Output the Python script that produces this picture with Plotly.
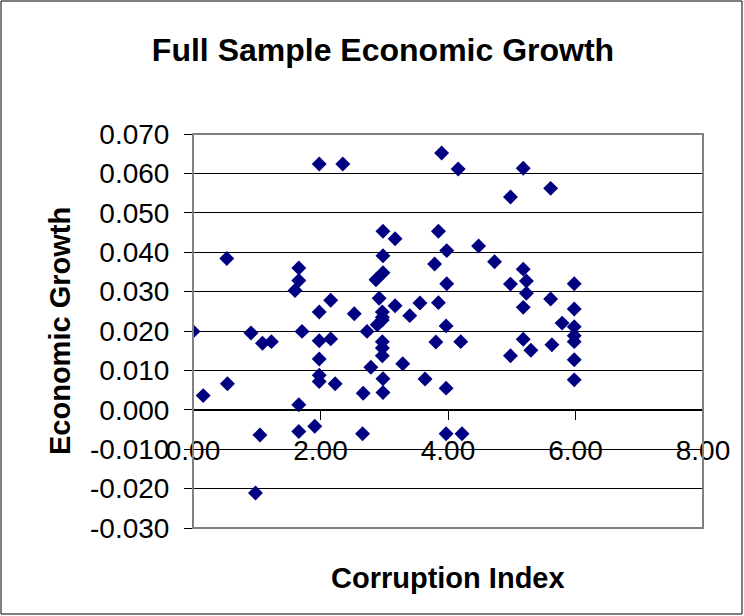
import plotly.graph_objects as go

# Data
corruption_index = [
    0.00, 0.16, 0.54, 0.53, 0.91, 1.09, 1.23, 1.05, 0.98, 1.66,
    1.66, 1.91, 1.60, 1.66, 1.66, 1.71, 1.98, 2.35, 2.16, 1.98,
    1.98, 2.16, 1.98, 1.98, 1.98, 2.23, 2.53, 2.66, 2.67, 2.73,
    2.79, 2.87, 2.89, 2.92, 2.97, 2.97, 2.98, 2.98, 2.98, 2.97,
    2.97, 2.97, 2.98, 2.98, 3.17, 3.17, 3.29, 3.40, 3.56, 3.64,
    3.79, 3.81, 3.85, 3.85, 3.90, 3.97, 3.98, 3.98, 3.97, 3.97,
    4.16, 4.20, 4.22, 4.48, 4.73, 4.98, 4.98, 4.98, 5.18, 5.18,
    5.23, 5.23, 5.18, 5.18, 5.30, 5.61, 5.61, 5.63, 5.79, 5.98,
    5.98, 5.98, 5.98, 5.98, 5.98, 5.98, 2.97,
]
economic_growth = [
    0.0199, 0.0036, 0.0066, 0.0384, 0.0195, 0.0169, 0.0173, -0.0064, -0.0211, 0.0013,
    -0.0055, -0.0042, 0.0303, 0.0328, 0.0360, 0.0199, 0.0624, 0.0624, 0.0278, 0.0248,
    0.0175, 0.0180, 0.0129, 0.0088, 0.0072, 0.0066, 0.0244, -0.0061, 0.0042, 0.0199,
    0.0108, 0.0330, 0.0216, 0.0283, 0.0248, 0.0228, 0.0453, 0.0391, 0.0348, 0.0173,
    0.0157, 0.0137, 0.0079, 0.0044, 0.0434, 0.0264, 0.0117, 0.0239, 0.0271, 0.0078,
    0.0370, 0.0172, 0.0453, 0.0272, 0.0652, 0.0213, 0.0404, 0.0320, 0.0055, -0.0061,
    0.0611, 0.0173, -0.0061, 0.0416, 0.0376, 0.0540, 0.0319, 0.0137, 0.0613, 0.0357,
    0.0327, 0.0296, 0.0260, 0.0179, 0.0151, 0.0562, 0.0281, 0.0165, 0.0220, 0.0320,
    0.0256, 0.0211, 0.0188, 0.0173, 0.0127, 0.0076, 0.0235,
]

x_tickvals = [0, 2, 4, 6, 8]
x_ticktext = ["0.00", "2.00", "4.00", "6.00", "8.00"]
y_tickvals = [-0.03, -0.02, -0.01, 0.0, 0.01, 0.02, 0.03, 0.04, 0.05, 0.06, 0.07]
y_ticktext = ["-0.030", "-0.020", "-0.010", "0.000", "0.010", "0.020",
              "0.030", "0.040", "0.050", "0.060", "0.070"]

title_text = "Full Sample Economic Growth"
x_title = "Corruption Index"
y_title = "Economic Growth"

W, H = 744, 616
L, R, T, B = 193, 703, 134, 528
pw, ph = R - L, B - T

FONT = "Arial, Liberation Sans, sans-serif"


def px2paper_x(px):
    return (px - L) / pw


def px2paper_y(py):
    return (B - py) / ph


fig = go.Figure()
fig.add_trace(go.Scatter(
    x=corruption_index, y=economic_growth, mode="markers",
    marker=dict(symbol="diamond", size=11.5, color="#000080",
                line=dict(width=0)),
    showlegend=False,
))

fig.update_layout(
    width=W, height=H,
    margin=dict(l=L, r=W - R, t=T, b=H - B, pad=0, autoexpand=False),
    paper_bgcolor="white", plot_bgcolor="white",
    font=dict(family=FONT, color="black", size=28),
    title=dict(text="<b>" + title_text + "</b>",
               font=dict(family=FONT, size=32, color="black"),
               x=383 / W, xanchor="center", xref="container",
               y=1 - 50 / H, yanchor="middle", yref="container"),
    xaxis=dict(
        range=[0, 8], tickvals=x_tickvals, ticktext=x_ticktext,
        showgrid=False, zeroline=False, automargin=False,
        showline=True, linecolor="black", linewidth=1,
        ticks="outside", ticklen=9, tickcolor="black", tickwidth=1,
        anchor="free", position=0.3,
        tickfont=dict(family=FONT, size=28, color="black"),
        ticklabelstandoff=7,
    ),
    yaxis=dict(
        range=[-0.03, 0.07], tickvals=y_tickvals, ticktext=y_ticktext,
        showgrid=True, gridcolor="black", gridwidth=1,
        zeroline=False, showline=False, automargin=False,
        ticks="outside", ticklen=8, tickcolor="black", tickwidth=1,
        tickfont=dict(family=FONT, size=28, color="black"),
        ticklabelstandoff=9,
    ),
    annotations=[
        dict(text="<b>" + x_title + "</b>", xref="paper", yref="paper",
             x=0.5, y=px2paper_y(578), xanchor="center", yanchor="middle",
             showarrow=False, font=dict(family=FONT, size=29, color="black")),
        dict(text="<b>" + y_title + "</b>", xref="paper", yref="paper",
             x=px2paper_x(60), y=0.5, xanchor="center", yanchor="middle",
             textangle=-90, showarrow=False,
             font=dict(family=FONT, size=29, color="black")),
    ],
    shapes=[
        dict(type="rect", xref="paper", yref="paper", x0=0, x1=1, y0=0, y1=1,
             line=dict(color="#808080", width=2), layer="above"),
        dict(type="rect", xref="paper", yref="paper",
             x0=px2paper_x(1), x1=px2paper_x(742),
             y0=px2paper_y(614), y1=px2paper_y(1),
             line=dict(color="black", width=1)),
    ],
)

fig.write_html(
    "out.html",
    config={"displayModeBar": False},
    post_script="document.body.style.margin='0';document.body.style.overflow='hidden';",
)
